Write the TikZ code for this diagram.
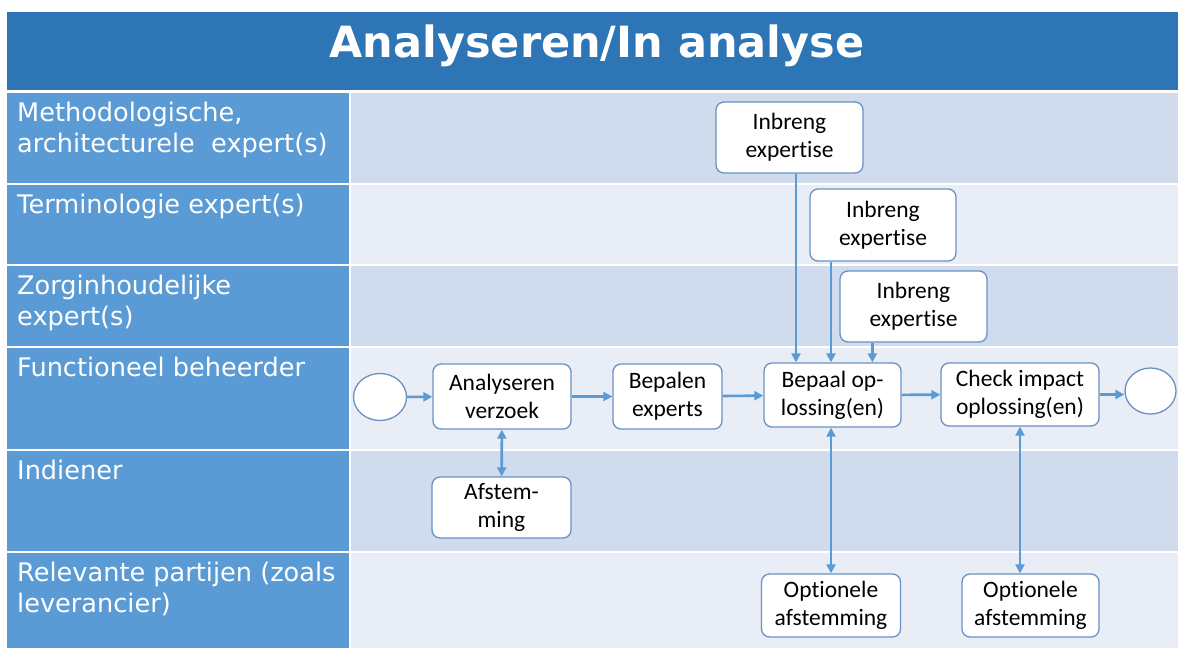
\documentclass[tikz,border=0pt]{standalone}
\usepackage{fontspec}
\setmainfont{Carlito}[Ligatures=NoCommon]
\newfontfamily\lanefont{DejaVu Sans}
\usetikzlibrary{arrows.meta,shapes.geometric}

\definecolor{titleblue}{RGB}{46,117,182}
\definecolor{laneblue}{RGB}{91,155,213}
\definecolor{lanedark}{RGB}{208,220,238}
\definecolor{lanelight}{RGB}{233,237,246}
\definecolor{taskline}{RGB}{105,145,195}
\definecolor{flowblue}{RGB}{91,155,213}

\tikzset{
  task/.style={draw=taskline, line width=1.3pt, fill=white, rounded corners=8pt,
    align=center, inner sep=0pt, font=\fontsize{23.5}{28}\selectfont},
  event/.style={draw=taskline, line width=1.3pt, fill=white, ellipse, inner sep=0pt},
  lanelabel/.style={anchor=north west, align=left, inner sep=0pt, text=white,
    font=\lanefont\fontsize{25.6}{31}\selectfont},
  flow/.style={draw=flowblue, line width=2.6pt, -{Triangle[length=9pt,width=9pt]}},
  twoway/.style={flow, {Triangle[length=9pt,width=9pt]}-{Triangle[length=9pt,width=9pt]}}
}

\begin{document}
\begin{tikzpicture}[x=1pt,y=-1pt]
\useasboundingbox (0,0) rectangle (1178,648);
\fill[white] (0,0) rectangle (1178,648);

% Title
\fill[titleblue] (7,12) rectangle (1178,90);
\node[text=white, font=\lanefont\bfseries\fontsize{43}{50}\selectfont] (title) at (597,46) {Analyseren/In analyse};

% Lanes
\foreach \i/\top/\bot/\col/\label in {
    1/93/183/lanedark/{Methodologische,\\architecturele\ \ expert(s)},
    2/185/264/lanelight/{Terminologie expert(s)},
    3/266/346/lanedark/{Zorginhoudelijke\\expert(s)},
    4/348/449/lanelight/{Functioneel beheerder},
    5/451/551/lanedark/{Indiener},
    6/553/648/lanelight/{Relevante partijen (zoals\\leverancier)}} {
  \fill[laneblue] (7,\top) rectangle (349,\bot);
  \fill[\col] (351,\top) rectangle (1178,\bot);
  \node[lanelabel] (lane\i) at (17,\top+9) {\label};
}

% Events
\node[event, minimum width=53pt, minimum height=47pt] (start) at (380,397) {};
\node[event, minimum width=51pt, minimum height=46pt] (end) at (1150.5,391) {};

% Tasks
\node[task, minimum width=138pt, minimum height=65pt] (analyse) at (502,396.5) {Analyseren\\verzoek};
\node[task, minimum width=109pt, minimum height=65pt] (experts) at (667.5,396.5) {Bepalen\\experts};
\node[task, minimum width=139pt, minimum height=61pt] (afstem) at (501.5,507.5) {Afstem-\\ming};
\node[task, minimum width=147pt, minimum height=71pt] (inbreng1) at (789.5,137.5) {Inbreng\\expertise};
\node[task, minimum width=146pt, minimum height=72pt] (inbreng2) at (883,225) {Inbreng\\expertise};
\node[task, minimum width=147pt, minimum height=71pt] (inbreng3) at (913.5,306.5) {Inbreng\\expertise};
\node[task, minimum width=137pt, minimum height=64pt] (bepaal) at (832.5,395) {Bepaal op-\\lossing(en)};
\node[task, minimum width=158pt, minimum height=63pt] (check) at (1020,394.5) {Check impact\\oplossing(en)};
\node[task, minimum width=139pt, minimum height=63pt] (opt1) at (831,605.5) {Optionele\\afstemming};
\node[task, minimum width=137pt, minimum height=63pt] (opt2) at (1030.5,605.5) {Optionele\\afstemming};

% Sequence flow
\draw[flow] (start) -- (analyse);
\draw[flow] (analyse) -- (experts);
\draw[flow] (experts) -- (bepaal);
\draw[flow] (bepaal) -- (check);
\draw[flow] (check.east) -- (check.east -| end.west);

% Expertise input
\draw[flow] ([xshift=6.5pt]inbreng1.south) -- ([xshift=6.5pt]inbreng1.south |- bepaal.north);
\draw[flow] (opt1 |- inbreng2.south) -- (opt1 |- bepaal.north);
\draw[flow] ([xshift=33pt]inbreng3.south west) -- ([xshift=33pt]inbreng3.south west |- bepaal.north);

% Consultation
\draw[twoway] (analyse) -- (afstem);
\draw[twoway] (opt1 |- bepaal.south) -- (opt1.north);
\draw[twoway] (check.south) -- (check.south |- opt2.north);
\end{tikzpicture}
\end{document}
